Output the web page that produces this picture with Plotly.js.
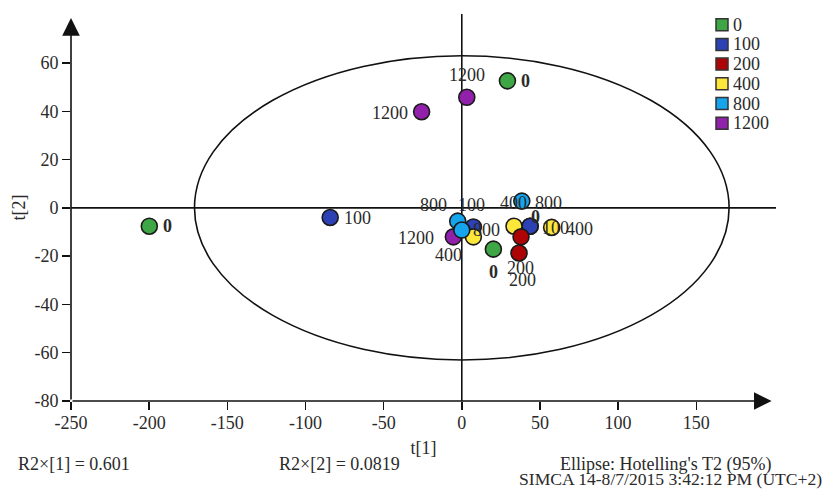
<!DOCTYPE html>
<html><head><meta charset="utf-8">
<script src="https://cdn.plot.ly/plotly-3.0.1.min.js"></script>
<style>html,body{margin:0;padding:0;background:#fff}#chart{width:835px;height:491px}</style>
</head><body><div id="chart"></div>
<script>
// ---- data (scores t[1], t[2] per dose group) ----
const groups = ['0','100','200','400','800','1200'];
const t1_0 = [-199.9, 29.2, 20.2, 43.7];
const t2_0 = [-7.6, 52.6, -17.1, -7.6];
const lab_0 = ['0','0','0','0'];
const t1_100 = [-84.2, 7.4, 43.7];
const t2_100 = [-4.0, -7.9, -7.6];
const lab_100 = ['100','100','100'];
const t1_200 = [37.9, 36.6];
const t2_200 = [-12.0, -18.7];
const lab_200 = ['200','200'];
const t1_400 = [33.4, 57.5, 7.4];
const t2_400 = [-7.6, -8.1, -12.0];
const lab_400 = ['400','400','400'];
const t1_800 = [-2.6, 0.0, 38.4];
const t2_800 = [-5.5, -9.2, 2.8];
const lab_800 = ['800','800','800'];
const t1_1200 = [-25.7, 3.2, -5.4];
const t2_1200 = [39.8, 45.8, -12.0];
const lab_1200 = ['1200','1200','1200'];
const xTicks = [-250,-200,-150,-100,-50,0,50,100,150];
const yTicks = [-80,-60,-40,-20,0,20,40,60];
const ellipseT1 = 171;   // Hotelling's T2 (95%) half-axis on t[1]
const ellipseT2 = 63;    // Hotelling's T2 (95%) half-axis on t[2]
const r2x1 = '0.601';
const r2x2 = '0.0819';

// ---- styling ----
const colors = {'0':'#3ea645','100':'#2c41b4','200':'#ad0505','400':'#fde73a','800':'#14a5ec','1200':'#9121aa'};
const labelOffsets = {
  '0':   [[18,0],[18,0],[0,-23],[5,9]],
  '100': [[27,0],[-2,22],[25,-2]],
  '200': [[1,-43],[1,-15]],
  '400': [[-1,23],[28,-2],[-25,-18]],
  '800': [[-24,16],[25,0],[27,-2]],
  '1200':[[-32,-1],[0,22],[-37,-1]]
};
const series = {
  '0':[t1_0,t2_0,lab_0], '100':[t1_100,t2_100,lab_100], '200':[t1_200,t2_200,lab_200],
  '400':[t1_400,t2_400,lab_400], '800':[t1_800,t2_800,lab_800], '1200':[t1_1200,t2_1200,lab_1200]
};
const drawOrder = ['0','100','400','200','1200','800'];
const FONT = 'Liberation Serif, Times New Roman, serif';
const TXT = '#2a2a2a';

const M = {l:71, r:59, t:14, b:90};
const W = 835, H = 491;
const pw = W - M.l - M.r, ph = H - M.t - M.b;
const px = p => (p - M.l) / pw;
const py = p => (H - M.b - p) / ph;

const traces = drawOrder.map(g => ({
  type:'scatter', mode:'markers', name:g,
  x: series[g][0], y: series[g][1],
  marker:{size:16, color:colors[g], line:{color:'#1a1a1a', width:1.6}},
  cliponaxis:false, showlegend:false, hoverinfo:'skip'
}));

const annotations = [];
groups.forEach(g => {
  const [xs, ys, ls] = series[g];
  xs.forEach((xv, i) => {
    annotations.push({
      xref:'x', yref:'y', x:xv, y:ys[i], text:ls[i], showarrow:false,
      xshift:labelOffsets[g][i][0], yshift:labelOffsets[g][i][1],
      font:{family:FONT, size:18, color:TXT, weight: g === '0' ? 'bold' : 'normal'}
    });
  });
});
// axis arrows
annotations.push({xref:'x', yref:'y', axref:'x', ayref:'y', x:198.2, y:-80, ax:-250, ay:-80,
  text:'', showarrow:true, arrowhead:2, arrowsize:2.2, arrowwidth:1.6, arrowcolor:'#111'});
annotations.push({xref:'x', yref:'y', axref:'x', ayref:'y', x:-250, y:78.6, ax:-250, ay:-80,
  text:'', showarrow:true, arrowhead:2, arrowsize:2.2, arrowwidth:1.6, arrowcolor:'#111'});
// legend (manual)
const shapes = [];
groups.forEach((g, i) => {
  const cy = 24.7 + i * 19.7;
  shapes.push({type:'rect', xref:'paper', yref:'paper', x0:px(716), x1:px(728), y0:py(cy+6), y1:py(cy-6),
    fillcolor:colors[g], line:{color:'#333', width:1.5}});
  annotations.push({xref:'paper', yref:'paper', x:px(731), y:py(cy), xanchor:'left', yanchor:'middle',
    text:g, showarrow:false, font:{family:FONT, size:18, color:TXT}});
});
// footer texts
const foot = (text, x, y, anchor, size) => annotations.push({xref:'paper', yref:'paper', x:px(x), y:py(y),
  xanchor:anchor, yanchor:'middle', text:text, showarrow:false, font:{family:FONT, size:size || 18, color:TXT}});
foot('R2×[1] = ' + r2x1, 16, 464, 'left');
foot('R2×[2] = ' + r2x2, 277, 464, 'left');
foot("Ellipse: Hotelling's T2 (95%)", 665, 464, 'center');
foot('SIMCA 14-8/7/2015 3:42:12 PM (UTC+2)', 670, 478.5, 'center', 17.6);

// ellipse and zero lines
shapes.push({type:'circle', xref:'x', yref:'y', x0:-ellipseT1, x1:ellipseT1, y0:-ellipseT2, y1:ellipseT2,
  line:{color:'#111', width:1.6}, layer:'below'});
shapes.push({type:'line', xref:'x', yref:'y', x0:-250, x1:201, y0:0, y1:0, line:{color:'#111', width:1.6}, layer:'below'});
shapes.push({type:'line', xref:'x', yref:'y', x0:0, x1:0, y0:-80, y1:80.3, line:{color:'#111', width:1.6}, layer:'below'});

const axisCommon = {
  showgrid:false, zeroline:false, showline:false, ticks:'outside', ticklen:8, tickwidth:1.5, tickcolor:'#111',
  tickfont:{family:FONT, size:18, color:TXT}, fixedrange:true
};
const layout = {
  width:W, height:H, margin:M, paper_bgcolor:'#fff', plot_bgcolor:'#fff', showlegend:false,
  xaxis:Object.assign({}, axisCommon, {range:[-250,201], tickvals:xTicks, ticktext:xTicks.map(String),
    ticklabelstandoff:-3,
    title:{text:'t[1]', standoff:9, font:{family:FONT, size:18, color:TXT}}}),
  yaxis:Object.assign({}, axisCommon, {range:[-80,80.3], tickvals:yTicks, ticktext:yTicks.map(String),
    title:{text:'t[2]', font:{family:FONT, size:18, color:TXT}}}),
  shapes:shapes, annotations:annotations
};
Plotly.newPlot('chart', traces, layout, {staticPlot:true, displayModeBar:false});
</script></body></html>
